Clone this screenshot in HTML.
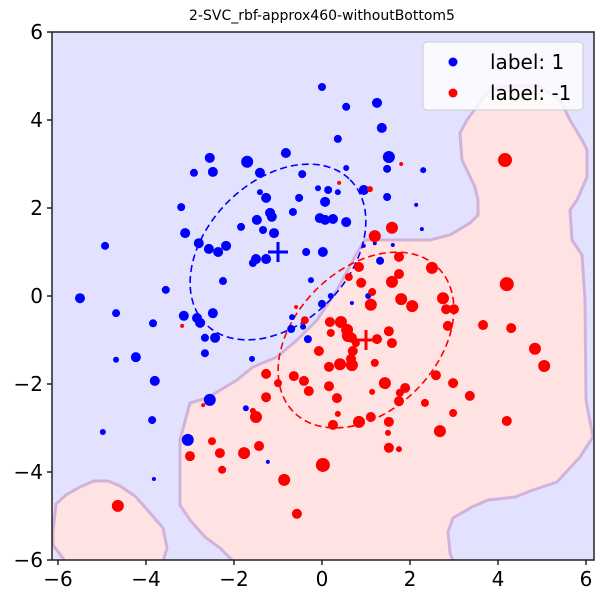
<!DOCTYPE html>
<html><head><meta charset="utf-8"><style>
html,body{margin:0;padding:0;background:#fff;}
svg{display:block;font-family:"DejaVu Sans","Liberation Sans",sans-serif;}
</style></head><body>
<svg id="chart" width="600" height="600" viewBox="0 0 600 600">
<text x="322" y="20" font-size="14" text-anchor="middle">2-SVC_rbf-approx460-withoutBottom5</text>
<defs><clipPath id="clip"><rect x="52" y="32" width="542" height="528"/></clipPath></defs>
<g clip-path="url(#clip)">
<rect x="52" y="32" width="542" height="528" fill="#e2e2ff"/>
<path fill="#ffe3e3" stroke="#c9a6d6" stroke-width="3" stroke-opacity="0.8" d="M233,561 L220,548 L205,537 L190,520 L180,505 L180,440 L190,403 L207,398 L237,380 L253,367 L277,357 L297,340 L317,320 L337,290 L357,253 L365,240 L430,240 L450,235 L470,223 L478,215 L478,200 L475,187 L462,160 L460,133 L467,120 L487,93 L500,86 L540,86 L560,100 L570,120 L582,140 L587,150 L587,177 L577,200 L570,210 L572,240 L582,255 L585,300 L586,400 L593,437 L580,457 L557,482 L533,490 L515,497 L488,500 L472,507 L453,518 L448,532 L450,553 L453,561 Z"/>
<path fill="#ffe3e3" stroke="#c9a6d6" stroke-width="3" stroke-opacity="0.8" d="M53,532 L56,504 L66,495 L80,487 L94,481 L108,481 L120,486 L135,496 L150,513 L163,528 L167,548 L163,561 L65,561 L53,545 Z"/>
<g id="marks"></g>
</g>
<rect x="52" y="32" width="542" height="528" fill="none" stroke="#222" stroke-width="1.5"/>
<g id="axes"></g>
<g>
<rect x="423" y="42" width="160" height="68" rx="4" fill="#fff" fill-opacity="0.8" stroke="#ccc"/>
<circle cx="453" cy="62" r="4.5" fill="#0000ff"/>
<text x="490" y="69" font-size="20">label: 1</text>
<circle cx="453" cy="93" r="4.5" fill="#ff0000"/>
<text x="490" y="100" font-size="20">label: -1</text>
</g>
</svg>
<script>
const xTicks=[-6,-4,-2,0,2,4,6];
const yTicks=[-6,-4,-2,0,2,4,6];
const blueX=[0,0.36,-0.82,-1.70,-1.41,-2.55,-2.48,-2.91,-0.45,-0.09,0.14,0.36,-1.41,-1.27,-0.52,0.07,-3.20,-0.66,-1.18,-1.14,-1.48,-0.05,0.25,0.07,-1.84,-1.34,-1.09,-3.11,-2.80,-2.18,-2.57,-2.36,-4.93,-0.36,0.02,-1.27,-1.50,-1.57,-2.25,-0.25,-3.55,-5.50,-4.68,-3.14,-2.84,-2.77,-2.48,0,0.20,-0.68,-0.70,-0.43,-0.32,-2.66,-2.43,-2.66,-1.59,-4.68,-4.23,-3.84,-3.80,-3.86,-3.82,-4.98,-3.05,-2.55,-1.73,-1.23,1.25,1.36,1.52,1.48,2.30,0.95,1.48,2.14,2.27,0.95,1.20,1.61,1.32,1.05,0.68,0.55,0.55,0.55];
const blueY=[4.75,3.57,3.25,3.05,2.80,3.14,2.82,2.80,2.77,2.45,2.41,2.36,2.36,2.23,2.23,2.14,2.02,1.91,1.89,1.80,1.73,1.77,1.75,1.73,1.57,1.50,1.43,1.43,1.20,1.14,1.07,1.00,1.14,1.00,1.00,0.84,0.84,0.75,0.34,0.36,0.14,-0.05,-0.39,-0.45,-0.50,-0.61,-0.39,-0.18,0,-0.48,-0.75,-0.70,-0.98,-0.95,-0.95,-1.30,-1.43,-1.45,-1.39,-0.62,-1.93,-2.82,-4.16,-3.09,-3.27,-2.36,-2.55,-3.77,4.39,3.82,3.16,2.89,2.86,2.41,2.25,2.07,1.52,1.14,1.20,1.16,0.80,0,-0.16,4.30,2.91,1.68];
const blueSize=[4,4,5,6,5,5,5,4,4,3,4,3,3,5,4,5,4,4,5,5,5,5,5,5,4,4,5,5,5,5,5,5,4,4,5,5,5,4,4,3,4,5,4,5,5,5,5,4,3,3,4,3,4,4,5,4,3,3,5,4,5,4,2,3,6,6,3,2,5,5,6,4,3,5,4,2,2,2,2,2,4,3,2,4,3,5];
const redX=[1.75,0.84,2.50,1.75,0.61,0.89,1.59,1.14,1.80,2.05,1.11,2.75,2.82,3.00,2.86,-0.59,-0.39,0.18,0.43,0.20,0.57,0.59,0.68,1.25,1.52,1.59,-0.07,0.70,0.77,0.66,1.20,0.16,0.41,0.68,-3.18,-1.27,-0.64,-0.41,-0.30,-1.00,0.16,0.34,1.43,1.14,1.89,1.77,1.75,2.34,2.59,2.98,3.36,2.98,2.68,1.52,1.50,1.52,1.75,1.11,0.84,0.25,0.36,-1.27,-1.50,-1.57,-2.70,-2.50,-2.32,-1.77,-1.43,-2.27,-3.00,0.02,-0.86,-0.57,-4.64,4.16,4.20,4.30,4.20,4.84,5.05,3.66,1.59,1.20,1.09,1.80,0.39];
const redY=[0.89,0.66,0.64,0.50,0.43,0.30,0.32,0.09,-0.07,-0.23,-0.20,-0.05,-0.30,-0.30,-0.68,-0.25,-0.55,-0.59,-0.59,-0.84,-0.77,-0.91,-0.95,-0.98,-0.80,-1.07,-1.25,-1.25,-1.07,-1.43,-1.52,-1.61,-1.55,-1.57,-0.68,-1.77,-1.82,-1.93,-2.16,-1.98,-2.05,-2.32,-1.98,-2.18,-2.09,-2.20,-2.39,-2.43,-1.80,-1.98,-2.27,-2.66,-3.07,-2.86,-3.11,-3.45,-3.48,-2.75,-2.86,-2.93,-2.68,-2.30,-2.75,-2.61,-2.48,-3.30,-3.57,-3.57,-3.41,-3.95,-3.64,-3.84,-4.18,-4.95,-4.77,3.09,0.27,-0.73,-2.84,-1.20,-1.59,-0.66,1.55,1.36,2.43,3.00,2.57];
const redSize=[5,5,6,5,4,5,6,4,6,6,6,6,5,5,5,2,4,5,6,4,6,6,5,5,5,5,5,5,4,5,4,5,6,6,2,5,5,5,5,4,5,5,6,3,5,4,5,4,5,5,5,4,6,5,3,5,3,5,6,5,3,5,6,3,2,4,5,6,5,4,5,7,6,5,6,7,7,5,5,6,6,5,6,6,3,2,2];
const centers=[{x:-1,y:1,c:"#0000ff",n:"blue"},{x:1,y:-1,c:"#ff0000",n:"red"}];
const ellipseAxes=[2.32,1.61];

const X0=-6.136,X1=6.182,Y0=-6,Y1=6,PL=52,PR=594,PT=32,PB=560;
function sx(v){return PL+(v-X0)/(X1-X0)*(PR-PL);}
function sy(v){return PB-(v-Y0)/(Y1-Y0)*(PB-PT);}
const NS="http://www.w3.org/2000/svg";
const marks=document.getElementById('marks');
const axes=document.getElementById('axes');
function mk(tag,attrs,parent){const e=document.createElementNS(NS,tag);for(const k in attrs)e.setAttribute(k,attrs[k]);parent.appendChild(e);return e;}

centers.forEach(function(c){
  const e=mk('ellipse',{cx:sx(c.x),cy:sy(c.y),rx:ellipseAxes[0]*(PR-PL)/(X1-X0),ry:ellipseAxes[1]*(PB-PT)/(Y1-Y0),transform:'rotate(-45 '+sx(c.x)+' '+sy(c.y)+')',fill:'none',stroke:c.c,'stroke-width':1.6,'stroke-dasharray':'7,4'},marks);
  
  
});
for(let i=0;i<blueX.length;i++){
  const e=mk('circle',{cx:sx(blueX[i]),cy:sy(blueY[i]),r:blueSize[i],fill:'#0000ff'},marks);
  
  
}
for(let i=0;i<redX.length;i++){
  const e=mk('circle',{cx:sx(redX[i]),cy:sy(redY[i]),r:redSize[i],fill:'#ff0000'},marks);
  
  
}
centers.forEach(function(c){
  const cx=sx(c.x),cy=sy(c.y);
  const p=mk('path',{d:'M'+(cx-10)+','+cy+'H'+(cx+10)+'M'+cx+','+(cy-10)+'V'+(cy+10),stroke:c.c,'stroke-width':3,fill:'none'},marks);
  
  
});
xTicks.forEach(function(t){
  const x=sx(t);
  const l=mk('line',{x1:x,x2:x,y1:PB,y2:PB+5,stroke:'#222','stroke-width':1.5},axes);
  
  
  const tx=mk('text',{x:x,y:PB+26,'font-size':20,'text-anchor':'middle'},axes);
  tx.textContent=(t<0?'\u2212'+(-t):String(t));
  
  
});
yTicks.forEach(function(t){
  const y=sy(t);
  const l=mk('line',{x1:PL-5,x2:PL,y1:y,y2:y,stroke:'#222','stroke-width':1.5},axes);
  
  
  const tx=mk('text',{x:PL-9,y:y+7,'font-size':20,'text-anchor':'end'},axes);
  tx.textContent=(t<0?'\u2212'+(-t):String(t));
  
  
});
</script>
</body></html>
